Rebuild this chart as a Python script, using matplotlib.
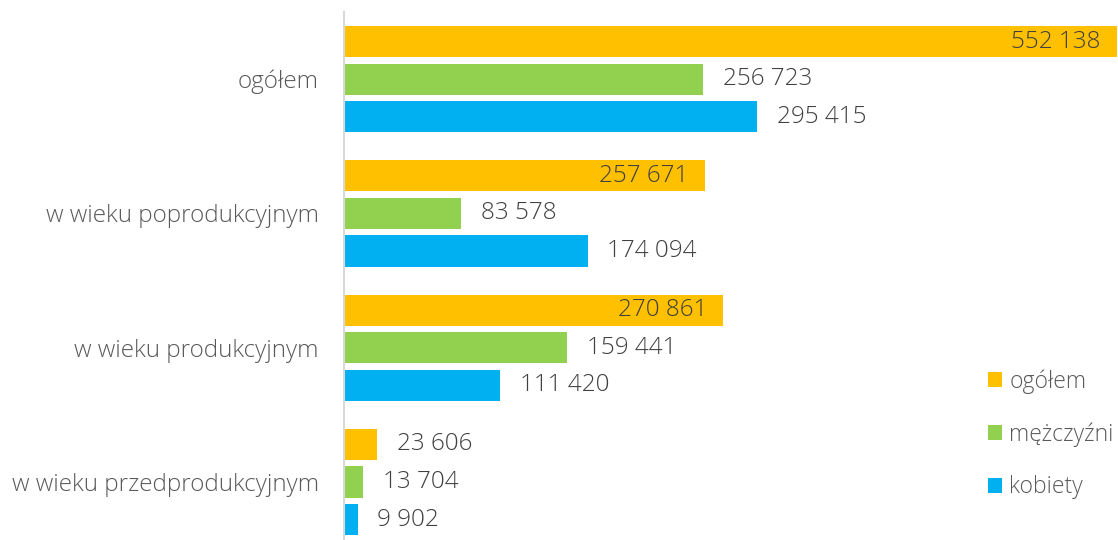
import matplotlib.pyplot as plt
import numpy as np
from matplotlib.patches import Patch

# Data
categories = ['ogółem', 'w wieku poprodukcyjnym', 'w wieku produkcyjnym', 'w wieku przedprodukcyjnym']
series_names = ['ogółem', 'mężczyźni', 'kobiety']
ogolem = [552138, 257671, 270861, 23606]
mezczyzni = [256723, 83578, 159441, 13704]
kobiety = [295415, 174094, 111420, 9902]

colors = ['#FFC000', '#92D050', '#00B0F0']
series = [ogolem, mezczyzni, kobiety]
# orange labels sit inside the bar end when they fit
inside = [[True, True, True, False], [False] * 4, [False] * 4]

def fmt(v):
    return f"{v:,}".replace(',', ' ')

plt.rcParams['font.family'] = ['Open Sans', 'DejaVu Sans']
plt.rcParams['font.weight'] = 'light'

W, H = 1118, 540
fig = plt.figure(figsize=(W / 100, H / 100), dpi=100)
pitch = 134.3
top = 12
ax_h = 4 * pitch
ax = fig.add_axes([344 / W, (H - top - ax_h) / H, (W - 344) / W, ax_h / H])

y = np.arange(len(categories))
off = 0.28
bh = 0.232
for k, (vals, col) in enumerate(zip(series, colors)):
    pos = y + (k - 1) * off
    ax.barh(pos, vals, height=bh, color=col, zorder=2)
    for j, v in enumerate(vals):
        if inside[k][j]:
            ax.text(v - 11500, pos[j], fmt(v), ha='right', va='center',
                    fontsize=17.5, color='#404040')
        else:
            ax.text(v + 14000, pos[j], fmt(v), ha='left', va='center',
                    fontsize=17.5, color='#404040')

ax.set_xlim(0, 553000)
ax.set_ylim(3.5, -0.5)
ax.set_xticks([])
ax.set_yticks(y)
ax.set_yticklabels(categories, fontsize=17.5, color='#595959')
ax.tick_params(axis='y', length=0, pad=18)
for s in ['top', 'right', 'bottom']:
    ax.spines[s].set_visible(False)
ax.spines['left'].set_color('#D9D9D9')
ax.spines['left'].set_linewidth(1.5)

# Legend
handles = [Patch(facecolor=c, label=n) for c, n in zip(colors, series_names)]
fig.legend(handles=handles, loc='upper left', bbox_to_anchor=(979 / W, 1 - 360 / H),
           frameon=False, fontsize=16.5, labelcolor='#595959', labelspacing=1.25,
           handlelength=0.62, handleheight=0.62, handletextpad=0.3, borderaxespad=0)

plt.savefig('out.png', dpi=100)
